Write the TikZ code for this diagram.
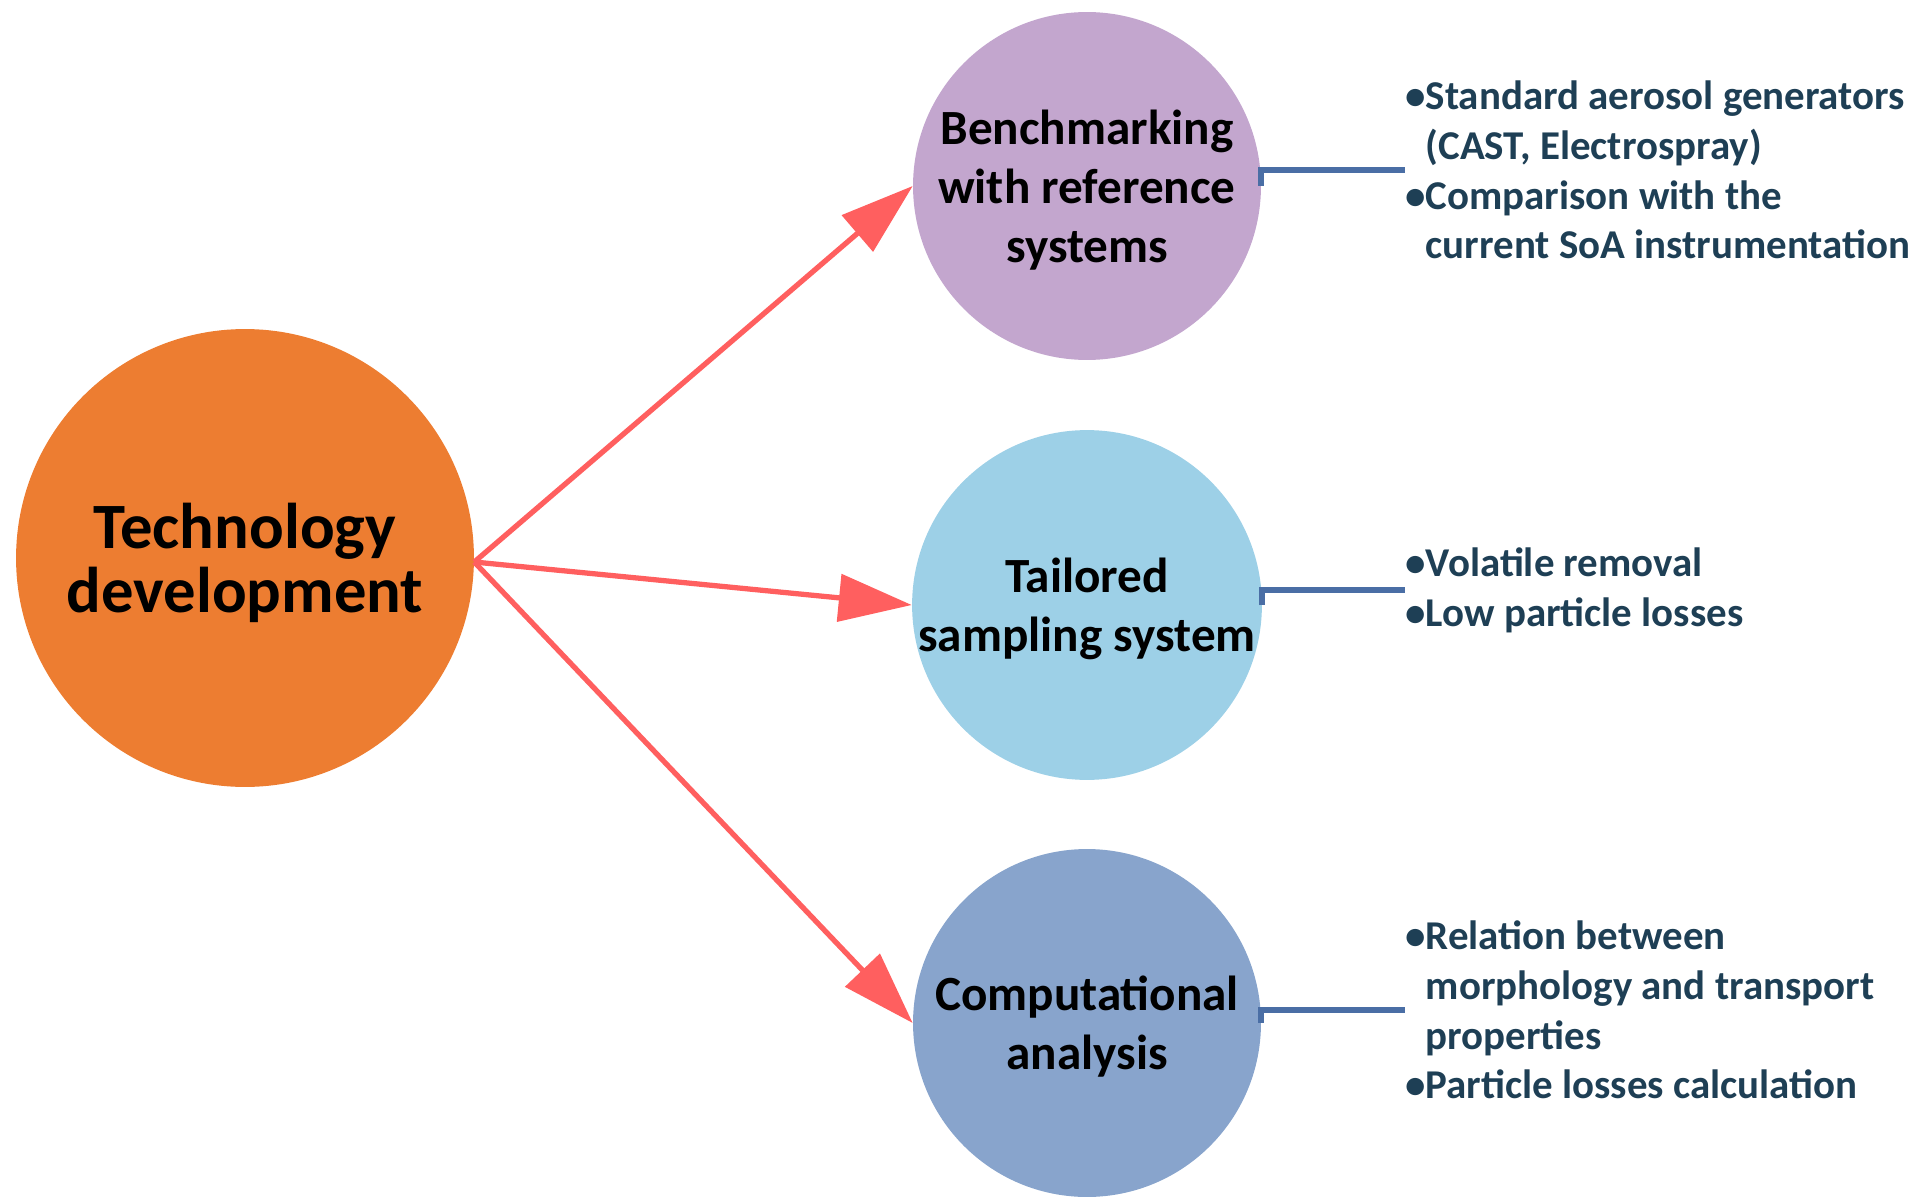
\documentclass[tikz,border=0pt]{standalone}
\usepackage{fontspec}
\setmainfont{Carlito}
\usetikzlibrary{arrows.meta}

\definecolor{techorange}{HTML}{ED7D31}
\definecolor{benchpurple}{HTML}{C3A6CE}
\definecolor{samplingblue}{HTML}{9DD0E7}
\definecolor{compblue}{HTML}{88A4CC}
\definecolor{arrowred}{HTML}{FF5F5F}
\definecolor{linkblue}{HTML}{4A6EA5}
\definecolor{notetext}{HTML}{1E3F55}

\tikzset{
  topic/.style={circle, minimum size=6.96cm, inner sep=0pt, align=center,
    text depth=-3.2pt, font=\fontsize{28}{33.5}\selectfont\bfseries},
  spoke/.style={arrowred, line width=3pt,
    -{Triangle[length=1.46cm, width=0.94cm]}},
  link/.style={linkblue, line width=3.4pt},
  note/.style={anchor=west, inner sep=0pt, align=left, text=notetext,
    font=\fontsize{23.3}{28.3}\selectfont\bfseries},
}

\begin{document}
\begin{tikzpicture}[x=0.02cm, y=-0.02cm]
   \useasboundingbox (0,0) rectangle (1919,1196);
   % main topic and its three branches
   \node[topic, fill=techorange, minimum size=9.16cm, text depth=0pt,
         font=\fontsize{36.8}{36.3}\selectfont\bfseries] (tech) at (245,558) {Technology\\development};
   \node[topic, fill=benchpurple] (bench) at (1087,186) {Benchmarking\\with reference\\systems};
   \node[topic, fill=samplingblue] (sampling) at (1087,605) {Tailored\\sampling system};
   \node[topic, fill=compblue] (comp) at (1087,1023) {Computational\\analysis};
   \draw[spoke] (tech.-1) -- (bench.west);
   \draw[spoke] (tech.-1) -- (sampling.west);
   \draw[spoke] (tech.-1) -- (comp.west);
   % notes on the right
   \node[note] (gen) at (1405,170) {\textbullet Standard aerosol generators\\\hphantom{\textbullet}(CAST, Electrospray)\\\textbullet Comparison with the\\\hphantom{\textbullet}current SoA instrumentation};
   \node[note] (removal) at (1405,590) {\textbullet Volatile removal\\\textbullet Low particle losses};
   \node[note] (relation) at (1405,1010) {\textbullet Relation between\\\hphantom{\textbullet}morphology and transport\\\hphantom{\textbullet}properties\\\textbullet Particle losses calculation};
   \draw[link] (bench.east) |- (gen.west);
   \draw[link] (sampling.east) |- (removal.west);
   \draw[link] (comp.east) |- (relation.west);
\end{tikzpicture}
\end{document}
